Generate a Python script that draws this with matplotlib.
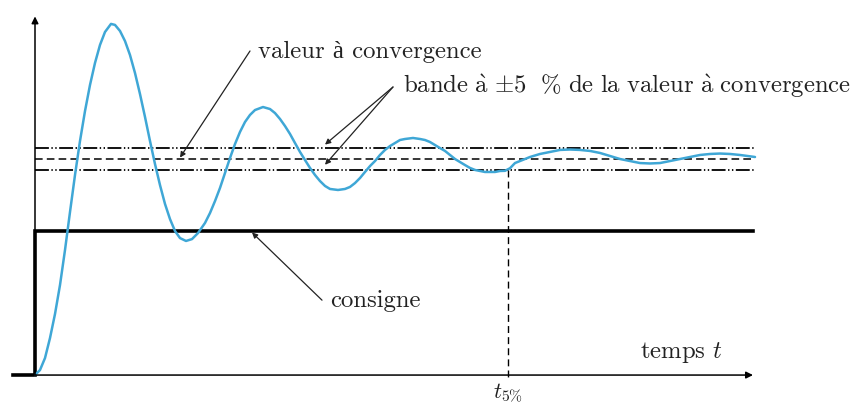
import matplotlib
matplotlib.use("Agg")
import matplotlib.pyplot as plt

# Réponse indicielle relevée point par point (t en unités arbitraires, consigne = 1)
t_resp = [0.0, 0.5, 1.0, 1.5, 2.0, 2.5, 3.0, 3.5, 4.0, 4.5, 5.0, 5.5, 6.0, 6.5, 7.0, 7.6,
          8.0, 8.5, 9.0, 9.5, 10.0, 10.5, 11.0, 11.5, 12.0, 12.5, 13.0, 13.5, 14.0, 14.5,
          15.1, 15.7, 16.3, 17.0, 17.5, 18.0, 18.5, 19.0, 19.5, 20.0, 20.5, 21.0, 21.5,
          22.0, 22.8, 23.5, 24.0, 24.5, 25.0, 25.5, 26.0, 26.5, 27.0, 27.5, 28.0, 28.5,
          29.0, 29.5, 30.3, 31.0, 31.5, 32.0, 32.5, 33.0, 33.5, 34.0, 34.5, 35.0, 35.5,
          36.0, 36.5, 37.0, 37.8, 38.5, 39.0, 39.5, 40.0, 40.5, 41.0, 41.5, 42.0, 42.5,
          43.0, 43.5, 44.0, 44.5, 45.0, 45.5, 46.0, 46.5, 47.0, 47.5, 48.0, 48.5, 49.5,
          50.5, 51.5, 52.5, 53.5, 54.5, 55.5, 56.5, 57.5, 58.5, 59.5, 60.5, 61.5, 62.5,
          63.5, 64.5, 65.5, 66.5, 67.5, 68.5, 69.5, 70.5, 72.0]
y_resp = [0.000, 0.035, 0.118, 0.257, 0.424, 0.625, 0.868, 1.132, 1.389, 1.625, 1.833,
          2.014, 2.167, 2.292, 2.382, 2.438, 2.431, 2.389, 2.319, 2.222, 2.097, 1.951,
          1.792, 1.625, 1.465, 1.319, 1.188, 1.083, 1.000, 0.951, 0.931, 0.944, 0.986,
          1.056, 1.125, 1.208, 1.299, 1.403, 1.507, 1.604, 1.688, 1.757, 1.806, 1.840,
          1.861, 1.847, 1.819, 1.778, 1.729, 1.674, 1.611, 1.549, 1.493, 1.438, 1.389,
          1.347, 1.313, 1.292, 1.285, 1.292, 1.306, 1.333, 1.368, 1.410, 1.451, 1.486,
          1.528, 1.563, 1.590, 1.611, 1.632, 1.639, 1.646, 1.639, 1.632, 1.618, 1.597,
          1.576, 1.556, 1.528, 1.500, 1.479, 1.458, 1.438, 1.424, 1.417, 1.410, 1.410,
          1.410, 1.417, 1.418, 1.436, 1.472, 1.486, 1.514, 1.535, 1.549, 1.563, 1.566,
          1.563, 1.556, 1.542, 1.521, 1.500, 1.486, 1.472, 1.469, 1.472, 1.486, 1.500,
          1.514, 1.528, 1.535, 1.538, 1.535, 1.528, 1.514]

consigne = 1.0
y_inf = 1.5          # valeur à convergence
bande = 0.05         # ±5 %
t_5 = 47.3           # temps de réponse à 5 %
t_fin = 72.0

lbl_conv = "valeur à convergence"
lbl_bande = (r"$\mathrm{bande\ \grave{a}\ {\pm}5\ \ \%\ de\ la\ valeur"
             r"\ \grave{a}\ convergence}$")
lbl_consigne = "consigne"
lbl_temps = r"temps $t$"
lbl_t5 = r"$t_{5\%}$"

plt.rcParams["mathtext.fontset"] = "cm"
plt.rcParams["lines.scale_dashes"] = False
serif = ["cmr10", "Liberation Serif"]
txt_col = "#222222"
fs = 17.8

fig = plt.figure(figsize=(8.65, 4.03), dpi=100)
ax = fig.add_axes([0, 0, 1, 1])
ax.set_xlim(-3.5, 83.0)
ax.set_ylim(-0.194, 2.604)
ax.axis("off")

# axes avec flèches
ax.annotate("", xy=(71.8, 0), xytext=(-2.2, 0),
            arrowprops=dict(arrowstyle="-|>", color="black", lw=1.1, mutation_scale=10,
                            shrinkA=0, shrinkB=0))
ax.annotate("", xy=(0, 2.49), xytext=(0, 0),
            arrowprops=dict(arrowstyle="-|>", color="black", lw=1.1, mutation_scale=10,
                            shrinkA=0, shrinkB=0))

# échelon de consigne
ax.plot([-2.2, 0, 0, t_fin - 0.2], [0, 0, consigne, consigne], color="black", lw=2.6,
        solid_joinstyle="miter")

# valeur finale et bande à ±5 %
ax.plot([0, t_fin], [y_inf, y_inf], color="black", lw=1.1, dashes=(5.5, 3.0))
for k in (1 - bande, 1 + bande):
    ax.plot([0, t_fin], [y_inf * k, y_inf * k], color="black", lw=1.3,
            dashes=(10, 1.8, 1.0, 1.8, 1.0, 1.8))

# réponse
ax.plot(t_resp, y_resp, color="#3fa7d6", lw=1.8, solid_capstyle="round",
        solid_joinstyle="round")

# temps de réponse à 5 %
ax.plot([t_5, t_5], [y_inf * (1 - bande), -0.03], color="black", lw=1.0, dashes=(5, 3))

arrow = dict(arrowstyle="-|>", color="#222222", lw=0.9, mutation_scale=8,
             shrinkA=0, shrinkB=0)
ax.annotate("", xy=(14.5, 1.51), xytext=(21.5, 2.25), arrowprops=arrow)
ax.annotate("", xy=(29.0, 1.60), xytext=(35.8, 2.0), arrowprops=arrow)
ax.annotate("", xy=(29.0, 1.46), xytext=(35.8, 2.0), arrowprops=arrow)
ax.annotate("", xy=(21.7, 0.99), xytext=(28.7, 0.52), arrowprops=arrow)

ax.text(22.3, 2.201, lbl_conv, family=serif, fontsize=fs, color=txt_col, va="baseline")
ax.text(36.8, 1.958, lbl_bande, family=serif, fontsize=fs, color=txt_col, va="baseline")
ax.text(29.5, 0.472, lbl_consigne, family=serif, fontsize=fs, color=txt_col, va="baseline")
ax.text(60.5, 0.118, lbl_temps, family=serif, fontsize=fs, color=txt_col, va="baseline")
ax.text(t_5, -0.16, lbl_t5, family=serif, fontsize=16, color=txt_col, ha="center",
        va="baseline")

fig.savefig("out.png", dpi=100)
